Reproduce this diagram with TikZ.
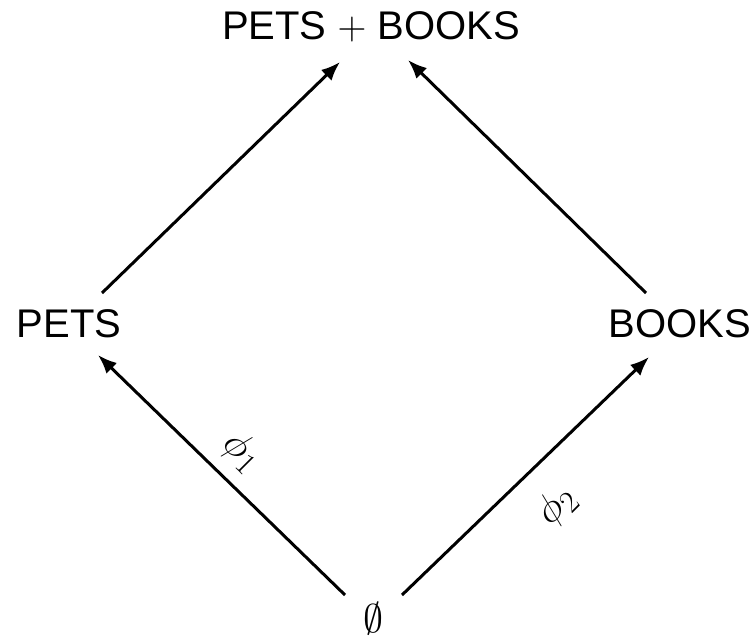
\RequirePackage{fix-cm}
\documentclass[tikz,border=0pt]{standalone}
\usepackage{fontspec}
\setmainfont{Liberation Sans}
\DeclareMathSizes{40}{40}{31}{24}
\usetikzlibrary{arrows.meta,calc}
\begin{document}
\begin{tikzpicture}[x=1pt,y=-1pt,
  lbl/.style={inner sep=0pt,font=\fontsize{40}{48}\selectfont},
  arr/.style={line width=3pt,-{Latex[length=19pt,width=15pt]}},
  philbl/.style={inner sep=0pt,font=\fontsize{40}{48}\selectfont}]
\useasboundingbox (0,0) rectangle (755,642);
\node[lbl] (top) at (371,27) {PETS $+$ BOOKS};
\node[lbl] (pets) at (69,324) {PETS};
\node[lbl] (books) at (680,324) {BOOKS};
\node[lbl] (empty) at (373,619) {$\emptyset$};
\draw[arr] ($(pets.center)+(33,-31)$) -- ($(top.center)+(-31,35)$);
\draw[arr] ($(books.center)+(-34,-31)$) -- ($(top.center)+(37,33)$);
\draw[arr] ($(empty.center)+(-28,-24)$) -- ($(pets.center)+(29,31)$);
\draw[arr] ($(empty.center)+(29,-24)$) -- ($(books.center)+(-31,33)$);
\node[philbl,rotate=-45] (phi1) at (242,452) {$\phi_1$};
\node[philbl,rotate=45] (phi2) at (557,506) {$\phi_2$};
\end{tikzpicture}
\end{document}
